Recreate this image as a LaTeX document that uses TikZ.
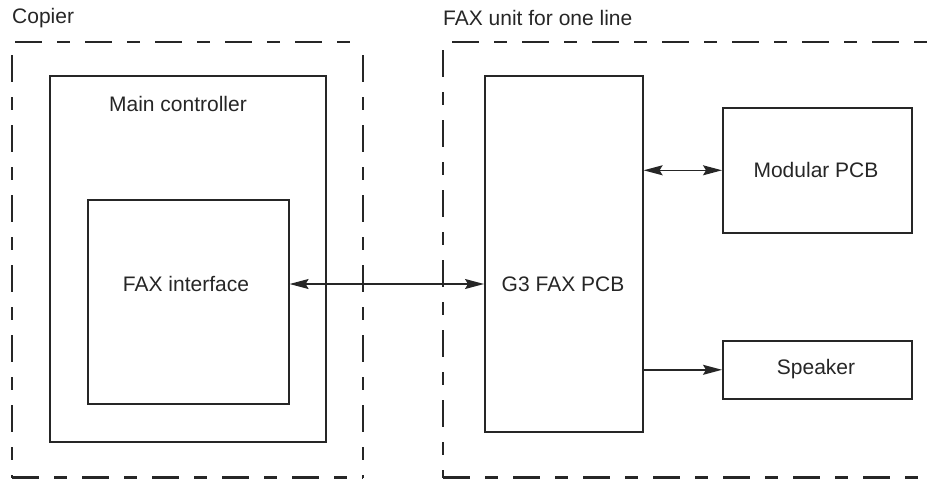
\documentclass[tikz,border=0pt]{standalone}
\usepackage{fontspec}
\setmainfont{Liberation Sans}
\usetikzlibrary{arrows.meta}
\begin{document}
\begin{tikzpicture}[x=1pt,y=-1pt,
  box/.style={draw=black!85, line width=1.6pt, minimum width=#1, anchor=north west, inner sep=0pt},
  dashline/.style={draw=black!85, line width=2.2pt, dash pattern=on 27pt off 15pt on 13pt off 15pt},
  lbl/.style={font=\fontsize{21}{24}\selectfont, text=black!85, inner sep=0pt},
  arr/.style={draw=black!85, line width=1.4pt, -{Stealth[length=19pt,width=10pt,inset=3pt]}},
  darr/.style={draw=black!85, line width=1.4pt, {Stealth[length=19pt,width=10pt,inset=3pt]}-{Stealth[length=19pt,width=10pt,inset=3pt]}}
]
\useasboundingbox (0,0) rectangle (933,479);
% group labels
\node[lbl, anchor=west] (copier) at (12,18) {Copier};
\node[lbl, anchor=west] (faxunit) at (443,18) {FAX unit for one line};
% dashed group outlines
\path[dashline] (15,42) -- (363,42);
\path[dashline] (12,55) -- (12,478);
\path[dashline] (363,55) -- (363,478);
\path[dashline] (12,477.5) -- (363,477.5);
\path[dashline] (452,42) -- (940,42);
\path[dashline] (443,50) -- (443,478);
\path[dashline] (443,477.5) -- (940,477.5);
% boxes
\node[box=276pt, minimum height=366pt] (main) at (49,75) {};
\node[lbl] (maintext) at (178,104) {Main controller};
\node[box=201pt, minimum height=204pt] (fi) at (87,199) {};
\node[lbl] (fitext) at (186,284) {FAX interface};
\node[box=158pt, minimum height=356pt] (g3) at (484,75) {};
\node[lbl] (g3text) at (563,284) {G3 FAX PCB};
\node[box=189pt, minimum height=125pt] (mod) at (722,107) {};
\node[lbl] (modtext) at (816,170) {Modular PCB};
\node[box=189pt, minimum height=58pt] (spk) at (722,340) {};
\node[lbl] (spktext) at (816,369) {Speaker};
% connectors
\draw[darr] (fi.east |- fitext) -- (g3.west |- fitext);
\draw[darr] (g3.east |- mod.west) -- (mod.west);
\draw[arr] (g3.east |- spk.west) -- (spk.west);
\end{tikzpicture}
\end{document}
